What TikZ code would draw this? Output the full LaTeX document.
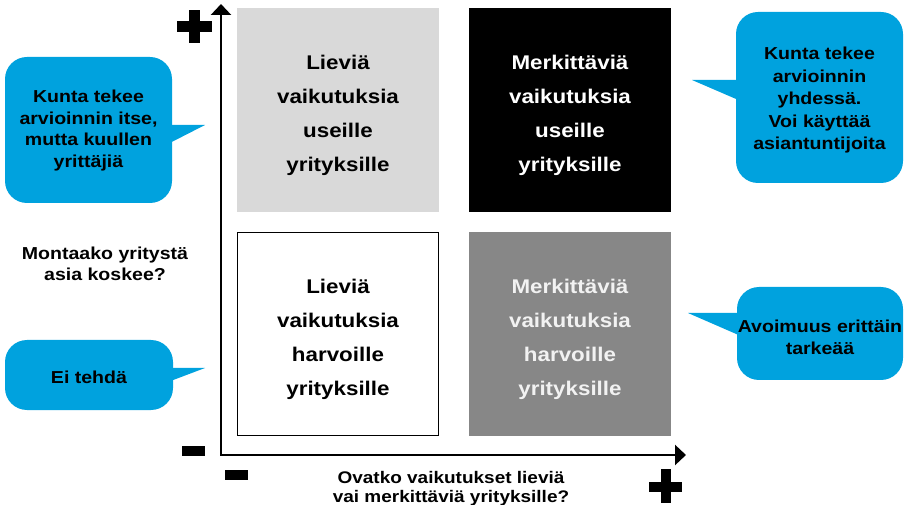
\documentclass[tikz,border=0pt]{standalone}
\usepackage{fontspec}
\setmainfont{Liberation Sans}[FakeStretch=1.13]
\usetikzlibrary{arrows.meta}
\definecolor{cblue}{RGB}{0,162,222}
\definecolor{lgray}{RGB}{217,217,217}
\definecolor{dgray}{RGB}{135,135,135}
\definecolor{wtext}{RGB}{242,242,242}
\tikzset{
  quad/.style={minimum width=202pt, minimum height=204pt, inner sep=0pt},
  qtext/.style={inner sep=0pt, align=center, font=\bfseries\fontsize{19.8}{34}\selectfont},
  bubble/.style={fill=cblue, rounded corners=22pt, inner sep=0pt},
  btext/.style={inner sep=0pt, align=center, font=\bfseries\fontsize{17.3}{21.5}\selectfont},
  ptr/.style={fill=cblue},
  lbl/.style={align=center, inner sep=0pt, font=\bfseries\fontsize{17.3}{21.5}\selectfont},
  sign/.style={fill=black},
  axis/.style={line width=2.5pt, line join=miter,
    {Triangle[length=11pt,width=20pt]}-{Triangle[length=11pt,width=20pt]}}
}
\begin{document}
\begin{tikzpicture}[x=1pt,y=-1pt]
\useasboundingbox (0,0) rectangle (906,505);
% quadrants
\node[quad, fill=lgray] (tl) at (338,110) {};
\node[quad, fill=black] (tr) at (570,110) {};
\node[quad, draw=black, line width=1.2pt, minimum width=200.8pt, minimum height=202.8pt] (bl) at (338,334) {};
\node[quad, fill=dgray] (br) at (570,334) {};
\node[qtext] (tlt) at ([yshift=-5.5pt]tl.center) {Lieviä\\vaikutuksia\\useille\\yrityksille};
\node[qtext, text=white] (trt) at ([yshift=-5.5pt]tr.center) {Merkittäviä\\vaikutuksia\\useille\\yrityksille};
\node[qtext] (blt) at ([yshift=-5.5pt]bl.center) {Lieviä\\vaikutuksia\\harvoille\\yrityksille};
\node[qtext, text=wtext] (brt) at ([yshift=-5.5pt]br.center) {Merkittäviä\\vaikutuksia\\harvoille\\yrityksille};
% axes
\coordinate (ytip) at (221,4);
\coordinate (orig) at (221,455);
\coordinate (xtip) at (686,455);
\draw[axis] (ytip) -- (orig) -- (xtip);
% signs
\fill[sign] (176.5,21.5) rectangle (211.5,32.5);
\fill[sign] (188.5,10) rectangle (199.5,43);
\fill[sign] (182,446) rectangle (205,456);
\fill[sign] (224.5,470) rectangle (247.5,480);
\fill[sign] (649,481.5) rectangle (682,492);
\fill[sign] (661,469) rectangle (671,503);
% callouts
\fill[ptr] (160,125) -- (205,125) -- (160,148) -- cycle;
\node[bubble, minimum width=167pt, minimum height=146pt] (b1) at (88.5,130) {};
\node[btext] (b1t) at ([yshift=-0.5pt]b1.center) {Kunta tekee\\arvioinnin itse,\\mutta kuullen\\yrittäjiä};
\fill[ptr] (750,80) -- (692,80) -- (750,105) -- cycle;
\node[bubble, minimum width=167pt, minimum height=171pt] (b2) at (819.5,97.5) {};
\node[btext, font=\bfseries\fontsize{17.3}{22.5}\selectfont] (b2t) at ([yshift=-3pt]b2.center) {Kunta tekee\\arvioinnin\\yhdessä.\\Voi käyttää\\asiantuntijoita};
\fill[ptr] (160,368) -- (205,368) -- (160,385) -- cycle;
\node[bubble, minimum width=168pt, minimum height=70pt] (b3) at (89,375) {};
\node[btext] (b3t) at ([yshift=-2pt]b3.center) {Ei tehdä};
\fill[ptr] (750,313) -- (688,313) -- (750,340) -- cycle;
\node[bubble, minimum width=166pt, minimum height=93pt] (b4) at (820,333.5) {};
\node[btext] (b4t) at ([yshift=-4pt]b4.center) {Avoimuus erittäin\\tarkeää};
% axis labels
\node[lbl] (ylab) at (105,264) {Montaako yritystä\\asia koskee?};
\node[lbl, font=\bfseries\fontsize{16.8}{19}\selectfont] (xlab) at (451,488.5) {Ovatko vaikutukset lieviä\\vai merkittäviä yrityksille?};
\end{tikzpicture}
\end{document}
